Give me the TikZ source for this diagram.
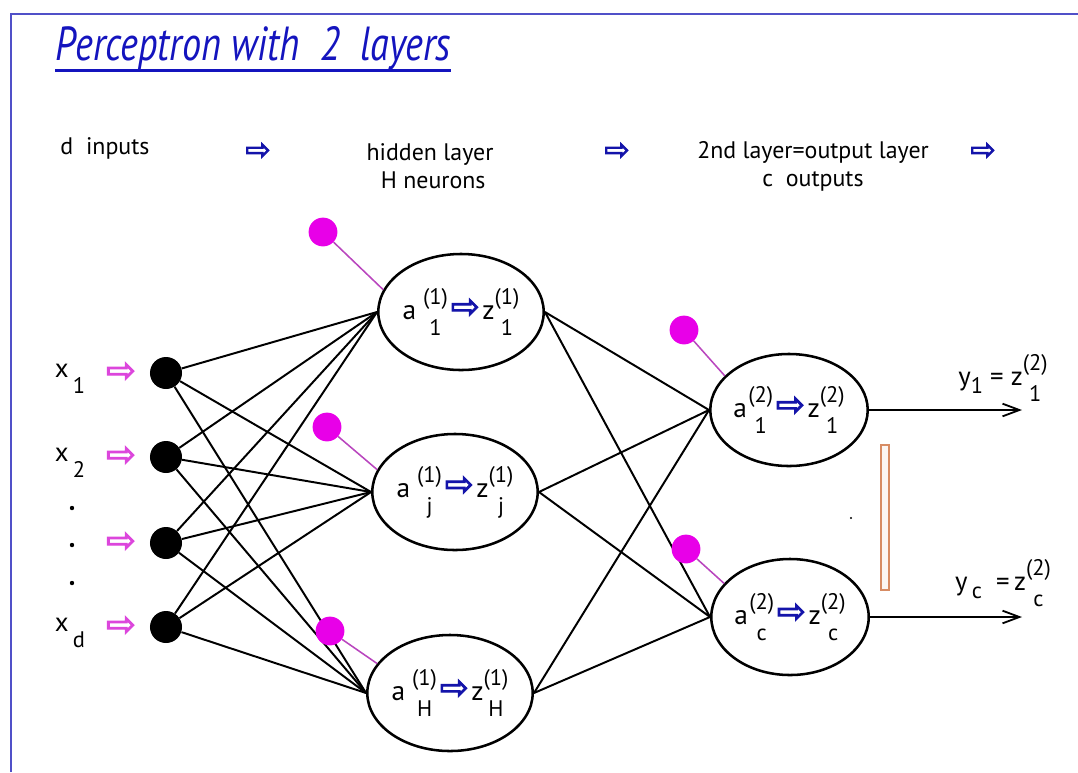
\documentclass[tikz,border=0pt]{standalone}
\usepackage{fontspec}
\setmainfont{PT Sans}
\setsansfont{PT Sans}
\newfontfamily\flechefont{DejaVu Sans}[FakeBold=3]
\usetikzlibrary{shapes.geometric,arrows.meta}
\definecolor{cadre}{RGB}{80,80,200}
\definecolor{titre}{RGB}{20,20,190}
\definecolor{fleche}{RGB}{20,20,170}
\definecolor{rose}{RGB}{220,70,220}
\definecolor{biais}{RGB}{232,0,232}
\definecolor{biaistrait}{RGB}{185,70,190}
\definecolor{brique}{RGB}{215,140,100}
% fleche creuse (symbole)
\newcommand{\fl}[1][fleche]{\raisebox{0.1ex}{\scalebox{1.25}{\flechefont\textcolor{#1}{⇨}}}}
% exposant et indice empiles
\newcommand{\pe}[2]{{\fontsize{16}{16}\selectfont\setbox0\hbox{#1}\setbox2\hbox{#2}%
  \dimen0=\ifdim\wd0>\wd2 \wd0\else\wd2\fi
  \rlap{\hbox to\dimen0{\hss\raisebox{10.5pt}{\box0}\hss}}\hbox to\dimen0{\hss\raisebox{-11.4pt}{\box2}\hss}}}
% indice seul (sorties)
\newcommand{\ind}[1]{{\fontsize{16}{16}\selectfont\raisebox{-6pt}{#1}}}
% etiquette d'un neurone : couche, indice, espace
\newcommand{\neur}[3]{a\hspace{#3}\pe{(#1)}{#2}\hspace{2pt}\fl\hspace{2pt}z\pe{(#1)}{#2}}

\begin{document}
\begin{tikzpicture}[x=0.025cm,y=-0.025cm,
  texte/.style={font=\fontsize{17}{20}\selectfont},
  entree/.style={circle,fill=black,minimum size=0.8cm,inner sep=0pt},
  neurone/.style={ellipse,draw,line width=1.8pt,minimum width=3.9cm,minimum height=2.9cm,inner sep=0pt,font=\fontsize{19.5}{20}\selectfont},
  biaisnoeud/.style={circle,fill=biais,minimum size=0.72cm,inner sep=0pt},
  lien/.style={line width=1.4pt},
  lienbiais/.style={biaistrait,line width=1.1pt}]

\useasboundingbox (0,0) rectangle (1078,772);
% cadre
\draw[cadre,line width=1.5pt] (11,772) -- (11,14) -- (1078,14);

% titre
\node[anchor=base west,inner sep=0pt,text=titre,font=\fontsize{34}{36}\selectfont\itshape] (titre) at (55,60)
  {\scalebox{0.8}[1]{Perceptron with\ \ 2\ \ layers}};
\draw[titre,line width=2.2pt] (titre.south west) -- (titre.south east);

% en-tetes
\node[texte] (entrees) at (105,148) {d\ \ inputs};
\node[texte] (fl1) at (258,152) {\fl};
\node[texte,align=center] (cachee) at (430,166) {hidden layer\\\ H neurons};
\node[texte] (fl2) at (617,152) {\fl};
\node[texte,align=center] (sortie) at (813,166) {2nd layer=output layer\\c\ \ outputs};
\node[texte] (fl3) at (983,152) {\fl};

% entrees
\foreach \i/\y in {1/373,2/457,3/543,4/627}{
  \node[entree] (in\i) at (166,\y) {};
  \node[font=\fontsize{20}{22}\selectfont] (fr\i) at (121,\y) {\fl[rose]};
}
\node[font=\fontsize{19}{20}\selectfont] (x1) at (70,378) {x\hspace{3pt}\pe{}{1}};
\node[font=\fontsize{19}{20}\selectfont] (x2) at (70,462) {x\hspace{3pt}\pe{}{2}};
\node[font=\fontsize{19}{20}\selectfont] (xd) at (70,632) {x\hspace{3pt}\pe{}{d}};
\foreach \y in {508,545,583}{\fill (72,\y) circle (2.2);}

% couche cachee
\node[neurone] (hid1) at (461,312) {\neur{1}{1}{5pt}};
\node[neurone] (hid2) at (455,492) {\neur{1}{j}{5pt}};
\node[neurone] (hid3) at (450,693) {\neur{1}{H}{5pt}};

% couche de sortie
\node[neurone,minimum height=2.8cm] (out1) at (789,410) {\neur{2}{1}{1pt}};
\node[neurone] (out2) at (790,617) {\neur{2}{c}{1pt}};

% liaisons
\foreach \i in {1,...,4}{\foreach \j in {1,2,3}{\draw[lien] (in\i) -- (hid\j.west);}}
\foreach \j in {1,2,3}{\foreach \k in {1,2}{\draw[lien] (hid\j.east) -- (out\k.west);}}

% biais
\foreach \b/\x/\y/\cible in {1/323/232/hid1.164,2/327/427/hid2.164,3/330/631/hid3.158,4/684/330/out1.152,5/686/549/out2.153}{
  \node[biaisnoeud] (b\b) at (\x,\y) {};
  \draw[lienbiais] (b\b) -- (\cible);
}

% sorties
\coordinate (fin1) at (1022,410);
\coordinate (fin2) at (1022,617);
\draw[lien,-{Straight Barb[length=12pt,width=9pt,line width=1.3pt]}] (out1.east) -- (fin1);
\draw[lien,-{Straight Barb[length=12pt,width=9pt,line width=1.3pt]}] (out2.east) -- (fin2);
\node[font=\fontsize{19}{20}\selectfont] (y1) at (1003,378) {y\ind{1}\ =\ z\pe{(2)}{1}};
\node[font=\fontsize{19}{20}\selectfont] (yc) at (1003,583) {y\hspace{3pt}\ind{c}\ \ =\,z\pe{(2)}{c}};

% barre et point
\draw[brique,line width=1.2pt,fill=brique!8] (881,445) rectangle (889,590);
\fill (851,518) circle (1.2);

\end{tikzpicture}
\end{document}
